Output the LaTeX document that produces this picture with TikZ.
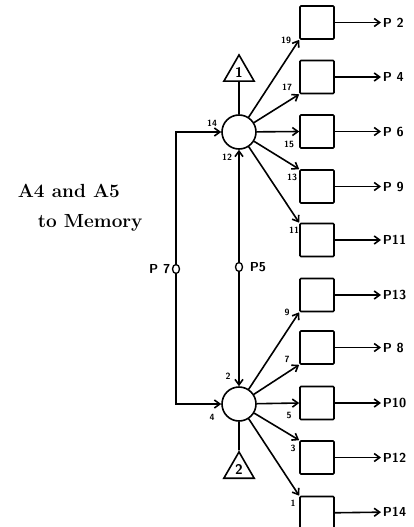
\documentclass[tikz,border=0pt]{standalone}
\usepackage{tikz}
\usetikzlibrary{positioning,shapes.geometric,arrows.meta}

\begin{document}
\begin{tikzpicture}[x=1pt, y=-1pt, line width=1.6pt,
  >={Straight Barb[length=5.5pt,width=8pt]},
  junction/.style={circle, draw, minimum size=34pt, inner sep=0pt},
  relay/.style={draw, rounded corners=1pt, minimum width=34pt, minimum height=33pt, inner sep=0pt},
  tri/.style={regular polygon, regular polygon sides=3, draw, minimum size=35pt, inner sep=0pt, font=\sffamily\bfseries\fontsize{14}{14}\selectfont},
  pin/.style={ellipse, draw, fill=white, minimum width=7pt, minimum height=9pt, inner sep=0pt, line width=1.3pt},
  wire/.style={font=\sffamily\bfseries\fontsize{13}{13}\selectfont, inner sep=1pt},
  num/.style={font=\sffamily\bfseries\fontsize{9}{9}\selectfont, inner sep=0pt}]
      \useasboundingbox (0,0) rectangle (413,527);
      % junctions and triangles
      \node[junction] (top) at (239,132) {};
      \node[junction] (bot) at (239,404) {};
      \node[tri, anchor=south] (t1) at (239,82) {1};
      \node[tri, anchor=south] (t2) at (239,479) {2};
      \draw (t1.south) -- (top.north);
      \draw (bot.south) -- (t2.north);
      % relays
      \node[relay] (r19) at (317,22.5) {};
      \node[relay] (r17) at (317,77) {};
      \node[relay] (r15) at (317,131.5) {};
      \node[relay] (r13) at (317,186.5) {};
      \node[relay] (r11) at (317,240) {};
      \node[relay] (r9) at (317,295) {};
      \node[relay] (r7) at (317,347.5) {};
      \node[relay] (r5) at (317,403) {};
      \node[relay] (r3) at (317,457.5) {};
      \node[relay] (r1) at (317,513) {};
      % outputs
      \node[wire, anchor=west] (p2) at (381,22.5) {P 2};
      \node[wire, anchor=west] (p4) at (381,77) {P 4};
      \node[wire, anchor=west] (p6) at (381,131.5) {P 6};
      \node[wire, anchor=west] (p9) at (381,186.5) {P 9};
      \node[wire, anchor=west] (p11) at (381,240) {P11};
      \node[wire, anchor=west] (p13) at (381,295) {P13};
      \node[wire, anchor=west] (p8) at (381,347.5) {P 8};
      \node[wire, anchor=west] (p10) at (381,403) {P10};
      \node[wire, anchor=west] (p12) at (381,457.5) {P12};
      \node[wire, anchor=west] (p14) at (381,512) {P14};
      \draw[->] (r19) -- (p2);
      \draw[->] (r17) -- (p4);
      \draw[->] (r15) -- (p6);
      \draw[->] (r13) -- (p9);
      \draw[->] (r11) -- (p11);
      \draw[->] (r9) -- (p13);
      \draw[->] (r7) -- (p8);
      \draw[->] (r5) -- (p10);
      \draw[->] (r3) -- (p12);
      \draw[->] (r1) -- (p14);
      % fan out
      \draw[->] (top) -- (r19.south west);
      \draw[->] (top) -- (r17.south west);
      \draw[->] (top) -- (r15.west);
      \draw[->] (top) -- (r13.north west);
      \draw[->] (top) -- (r11.north west);
      \draw[->] (bot) -- (r9.south west);
      \draw[->] (bot) -- (r7.south west);
      \draw[->] (bot) -- (r5.west);
      \draw[->] (bot) -- (r3.north west);
      \draw[->] (bot) -- (r1.north west);
      % inputs
      \node[pin] (p7) at (176,269) {};
      \node[pin] (p5) at (239,267) {};
      \node[wire, anchor=east] (l7) at (172,269) {P 7};
      \node[wire, anchor=west] (l5) at (248,267) {P5};
      \draw[->] (p7.north) |- (top.west);
      \draw[->] (p7.south) |- (bot.west);
      \draw[->] (p5.north) -- (top.south);
      \draw[->] (p5.south) -- (bot.north);
      % pin numbers
      \node[num] (n19) at (286,40) {19};
      \node[num] (n17) at (287,87) {17};
      \node[num] (n15) at (289,144) {15};
      \node[num] (n13) at (292,177) {13};
      \node[num] (n11) at (294,230) {11};
      \node[num] (n14) at (212,123) {14};
      \node[num] (n12) at (227,157) {12};
      \node[num] (n9) at (287,312) {9};
      \node[num] (n7) at (287,359) {7};
      \node[num] (n5) at (289,415) {5};
      \node[num] (n3) at (293,448) {3};
      \node[num] (n1) at (293,503) {1};
      \node[num] (n2) at (228,376) {2};
      \node[num] (n4) at (212,417) {4};
      % caption
      \node[font=\bfseries\fontsize{19}{19}\selectfont, anchor=west, inner sep=0pt] (memA) at (17,191) {A4 and A5};
      \node[font=\bfseries\fontsize{19}{19}\selectfont, anchor=west, inner sep=0pt] (memB) at (37,223) {to Memory};
\end{tikzpicture}
\end{document}
